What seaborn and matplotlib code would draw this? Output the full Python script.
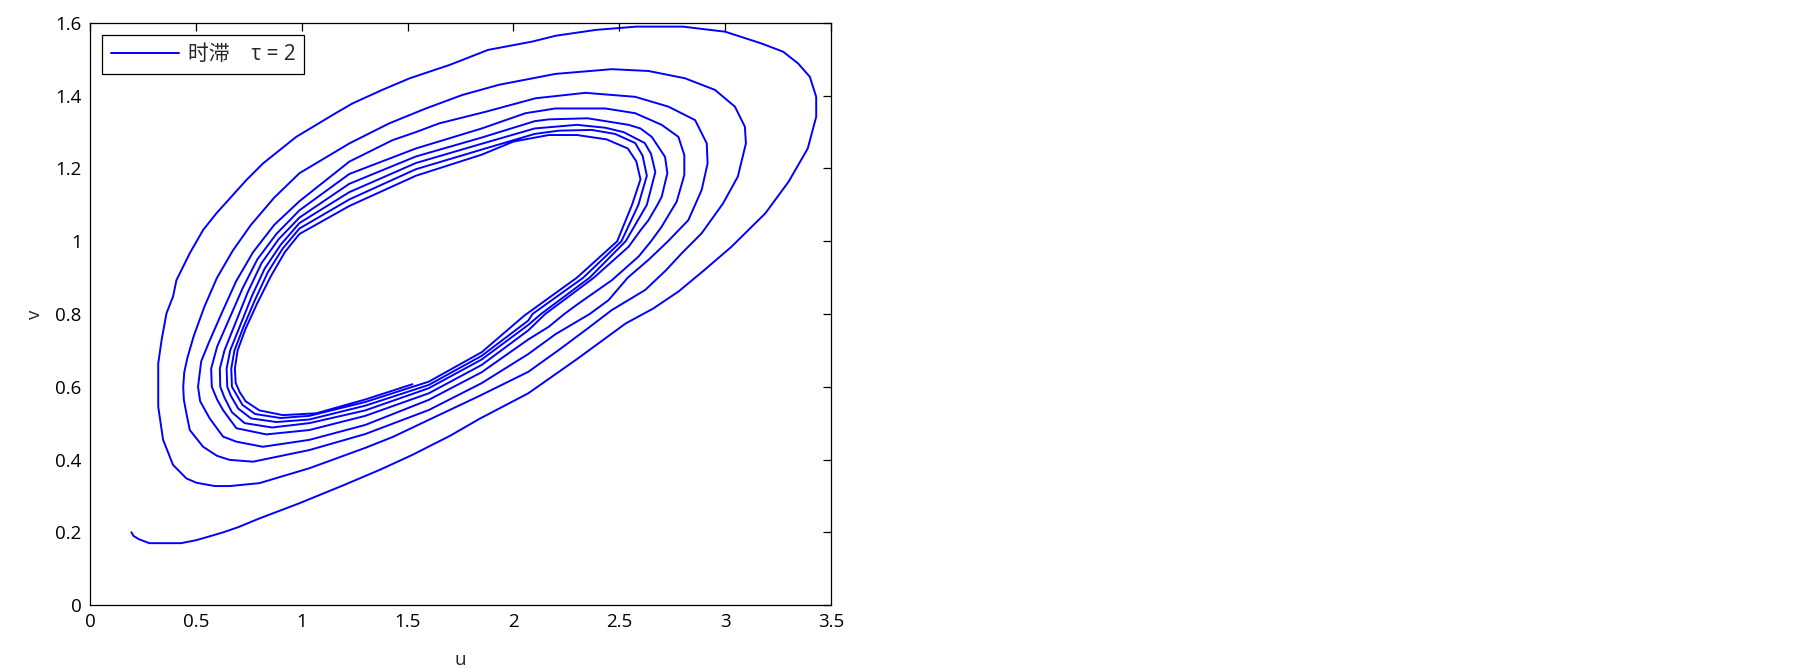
import matplotlib
matplotlib.use("Agg")
import matplotlib.pyplot as plt
import seaborn as sns
import pandas as pd
from matplotlib.ticker import FuncFormatter

loop0 = [(0.195, 0.200), (0.205, 0.190), (0.23, 0.181), (0.28, 0.170), (0.43, 0.170),
         (0.50, 0.178), (0.56, 0.188), (0.63, 0.200), (0.70, 0.214), (0.80, 0.238),
         (0.99, 0.280), (1.20, 0.330), (1.37, 0.372), (1.52, 0.412), (1.70, 0.465),
         (1.84, 0.512), (2.07, 0.582), (2.30, 0.676), (2.53, 0.774), (2.66, 0.815),
         (2.78, 0.862), (2.90, 0.920), (3.03, 0.985), (3.19, 1.077), (3.30, 1.164),
         (3.39, 1.255), (3.43, 1.342), (3.43, 1.397), (3.40, 1.452), (3.344, 1.489),
         (3.274, 1.521), (3.17, 1.544), (3.00, 1.576), (2.80, 1.590), (2.58, 1.590),
         (2.39, 1.581), (2.20, 1.565), (2.09, 1.549), (1.88, 1.526), (1.70, 1.485),
         (1.51, 1.448), (1.38, 1.416), (1.24, 1.379), (1.16, 1.352), (0.974, 1.287),
         (0.817, 1.214), (0.738, 1.168), (0.597, 1.077), (0.534, 1.031), (0.471, 0.967),
         (0.408, 0.893), (0.392, 0.848), (0.361, 0.802), (0.338, 0.729), (0.322, 0.664),
         (0.322, 0.545), (0.345, 0.454), (0.392, 0.385), (0.455, 0.348), (0.503, 0.336),
         (0.589, 0.327)]
loop1 = [(0.66, 0.327), (0.80, 0.335), (1.036, 0.376), (1.30, 0.432), (1.43, 0.462),
         (1.60, 0.509), (1.84, 0.575), (2.07, 0.641), (2.214, 0.701), (2.35, 0.76),
         (2.465, 0.811), (2.622, 0.866), (2.72, 0.92), (2.795, 0.967), (2.889, 1.022),
         (2.99, 1.104), (3.06, 1.178), (3.098, 1.269), (3.093, 1.315), (3.046, 1.37),
         (2.952, 1.416), (2.81, 1.448), (2.638, 1.468), (2.465, 1.473), (2.198, 1.46),
         (1.931, 1.43), (1.758, 1.402), (1.586, 1.365), (1.413, 1.324), (1.225, 1.269),
         (0.989, 1.187), (0.87, 1.12), (0.76, 1.045), (0.675, 0.975), (0.60, 0.90),
         (0.54, 0.82), (0.49, 0.74), (0.46, 0.68), (0.445, 0.64), (0.44, 0.60),
         (0.443, 0.564), (0.455, 0.527), (0.471, 0.481), (0.534, 0.435), (0.60, 0.41)]
loop2 = [(0.659, 0.399), (0.77, 0.394), (1.036, 0.426), (1.30, 0.47), (1.60, 0.536),
         (1.85, 0.61), (2.07, 0.69), (2.20, 0.745), (2.36, 0.80), (2.449, 0.838),
         (2.54, 0.90), (2.64, 0.95), (2.73, 1.00), (2.826, 1.058), (2.889, 1.141),
         (2.917, 1.214), (2.913, 1.269), (2.858, 1.333), (2.732, 1.37), (2.575, 1.397),
         (2.34, 1.408), (2.104, 1.393), (1.869, 1.356), (1.649, 1.324), (1.539, 1.30),
         (1.429, 1.278), (1.225, 1.219), (0.989, 1.11), (0.87, 1.045), (0.77, 0.97),
         (0.69, 0.89), (0.62, 0.80), (0.56, 0.72), (0.525, 0.67), (0.51, 0.60),
         (0.52, 0.56), (0.565, 0.513), (0.628, 0.463), (0.691, 0.449)]
loop3 = [(0.816, 0.435), (1.036, 0.454), (1.30, 0.495), (1.60, 0.564), (1.85, 0.64),
         (2.07, 0.73), (2.167, 0.765), (2.24, 0.80), (2.308, 0.829), (2.465, 0.893),
         (2.591, 0.958), (2.65, 1.0), (2.70, 1.04), (2.771, 1.109), (2.807, 1.182),
         (2.807, 1.237), (2.779, 1.287), (2.70, 1.32), (2.575, 1.352), (2.434, 1.365),
         (2.198, 1.365), (2.057, 1.352), (1.85, 1.31), (1.539, 1.255), (1.225, 1.185),
         (0.989, 1.085), (0.88, 1.02), (0.79, 0.95), (0.72, 0.87), (0.66, 0.79),
         (0.60, 0.71), (0.572, 0.65), (0.575, 0.60), (0.60, 0.565), (0.628, 0.536),
         (0.691, 0.486)]
loop4 = [(0.832, 0.469), (1.036, 0.481), (1.30, 0.52), (1.60, 0.582), (1.85, 0.66),
         (2.07, 0.755), (2.15, 0.80), (2.261, 0.848), (2.38, 0.90), (2.544, 0.985),
         (2.60, 1.03), (2.638, 1.058), (2.68, 1.10), (2.70, 1.122), (2.727, 1.187),
         (2.716, 1.232), (2.653, 1.287), (2.60, 1.31), (2.544, 1.32), (2.35, 1.338),
         (2.167, 1.335), (2.10, 1.33), (1.85, 1.285), (1.539, 1.233), (1.225, 1.158),
         (0.989, 1.065), (0.89, 1.005), (0.81, 0.94), (0.745, 0.86), (0.69, 0.78),
         (0.635, 0.70), (0.613, 0.65), (0.615, 0.60), (0.635, 0.57), (0.67, 0.53),
         (0.73, 0.50)]
loop5 = [(0.86, 0.488), (1.036, 0.50), (1.30, 0.535), (1.60, 0.596), (1.85, 0.675),
         (2.07, 0.77), (2.13, 0.80), (2.36, 0.90), (2.53, 1.0), (2.63, 1.10),
         (2.67, 1.19), (2.65, 1.24), (2.62, 1.27), (2.52, 1.30), (2.434, 1.312),
         (2.30, 1.32), (2.10, 1.31), (1.85, 1.268), (1.539, 1.215), (1.225, 1.135),
         (0.989, 1.05), (0.90, 0.99), (0.825, 0.925), (0.765, 0.85), (0.71, 0.77),
         (0.662, 0.70), (0.645, 0.65), (0.648, 0.60), (0.665, 0.575), (0.70, 0.54),
         (0.76, 0.513)]
loop6 = [(0.88, 0.503), (1.036, 0.51), (1.30, 0.548), (1.60, 0.605), (1.85, 0.685),
         (2.07, 0.782), (2.09, 0.80), (2.33, 0.90), (2.51, 1.0), (2.59, 1.10),
         (2.63, 1.18), (2.61, 1.235), (2.575, 1.27), (2.48, 1.295), (2.37, 1.306),
         (2.214, 1.304), (2.10, 1.295), (1.85, 1.252), (1.539, 1.198), (1.225, 1.115),
         (0.989, 1.035), (0.91, 0.98), (0.84, 0.915), (0.78, 0.84), (0.725, 0.765),
         (0.682, 0.70), (0.667, 0.65), (0.67, 0.60), (0.69, 0.58), (0.72, 0.55),
         (0.78, 0.525)]
loop7 = [(0.90, 0.514), (1.036, 0.52), (1.30, 0.558), (1.60, 0.614), (1.85, 0.695),
         (2.05, 0.795), (2.30, 0.90), (2.49, 1.0), (2.56, 1.10), (2.60, 1.17),
         (2.58, 1.22), (2.54, 1.255), (2.44, 1.28), (2.30, 1.292), (2.167, 1.292),
         (2.00, 1.274), (1.85, 1.238), (1.539, 1.18), (1.225, 1.097), (0.989, 1.02),
         (0.92, 0.97), (0.855, 0.905), (0.79, 0.83), (0.735, 0.76), (0.697, 0.70),
         (0.684, 0.65), (0.688, 0.61), (0.707, 0.585), (0.735, 0.56), (0.80, 0.535)]
loop8 = [(0.91, 0.522), (1.068, 0.527), (1.30, 0.565), (1.523, 0.607)]

legend_label = '时滞    τ = 2'
x_ticks = [0, 0.5, 1, 1.5, 2, 2.5, 3, 3.5]
y_ticks = [0, 0.2, 0.4, 0.6, 0.8, 1, 1.2, 1.4, 1.6]

pts = loop0 + loop1 + loop2 + loop3 + loop4 + loop5 + loop6 + loop7 + loop8
df = pd.DataFrame(pts, columns=['u', 'v'])

sns.set_style("white")
plt.rcParams['font.family'] = ['Open Sans', 'DejaVu Sans']

fig = plt.figure(figsize=(18.05, 6.68), dpi=100)
ax = fig.add_axes([0.0499, 0.0943, 0.4105, 0.8713])

sns.lineplot(data=df, x='u', y='v', sort=False, estimator=None,
             color='#0000ff', lw=1.4, ax=ax, label=legend_label)

ax.set_xlim(0, 3.5)
ax.set_ylim(0, 1.6)
ax.set_xticks(x_ticks)
ax.set_yticks(y_ticks)
fmt = FuncFormatter(lambda val, pos: '%g' % val)
ax.xaxis.set_major_formatter(fmt)
ax.yaxis.set_major_formatter(fmt)
ax.tick_params(direction='in', top=True, right=True, length=6, width=0.9,
               labelsize=13.5, pad=6, colors='black')
for s in ax.spines.values():
    s.set_visible(True)
    s.set_color('black')
    s.set_linewidth(0.9)

ax.set_xlabel('u', fontsize=13.5, labelpad=14)
ax.set_ylabel('v', fontsize=13.5, labelpad=8)

leg = ax.legend(loc='upper left', bbox_to_anchor=(0.0158, 0.979), borderaxespad=0,
                fancybox=False, framealpha=1, edgecolor='black', handlelength=3.3,
                handletextpad=0.4, borderpad=0.42,
                prop={'family': ['Open Sans', 'Noto Sans CJK SC', 'DejaVu Sans'], 'size': 15})
leg.get_frame().set_linewidth(0.9)

fig.savefig('out.png', dpi=100)
